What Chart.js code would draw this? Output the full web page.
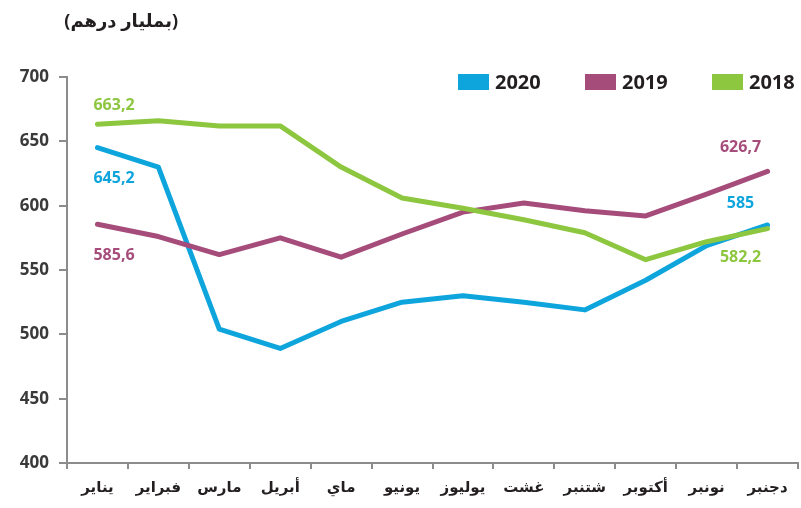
<!DOCTYPE html>
<html><head><meta charset="utf-8">
<script src="https://cdn.jsdelivr.net/npm/chart.js@4.4.1/dist/chart.umd.min.js"></script>
<style>html,body{margin:0;padding:0;background:#fff}#wrap{width:801px;height:508px;position:relative}</style>
</head><body><div id="wrap"><canvas id="c" width="801" height="508"></canvas></div>
<script>
const months = ['يناير','فبراير','مارس','أبريل','ماي','يونيو','يوليوز','غشت','شتنبر','أكتوبر','نونبر','دجنبر'];
const seriesLabels = ['2020','2019','2018'];
const values2020 = [645.2, 630, 504, 489, 510, 525, 530, 525, 519, 542, 569, 585];
const values2019 = [585.6, 576, 562, 575, 560, 578, 595, 602, 596, 592, 609, 626.7];
const values2018 = [663.2, 666, 662, 662, 630, 606, 598, 589, 579, 558, 572, 582.2];
const unitTitle = '(بمليار درهم)';

const colors = ['#0ea5dd', '#a64c7b', '#8dc63f'];
const fontFam = "'Open Sans', 'DejaVu Sans', sans-serif";
const axisColor = '#8c8c8c';
// label offsets relative to first / last point [dx, dy, align]
const labelStyle = [
  {first: [-4, 31, 'left'], last: [-27, -22, 'center']},
  {first: [-4, 31, 'left'], last: [-27, -24, 'center']},
  {first: [-4, -19, 'left'], last: [-27, 29, 'center']}
];
const fmt = v => String(v).replace('.', ',');

const extras = {
  id: 'extras',
  afterDatasetsDraw(chart) {
    const ctx = chart.ctx;
    ctx.save();
    // end labels
    ctx.font = 'bold 16px ' + fontFam;
    ctx.textBaseline = 'middle';
    chart.data.datasets.forEach((ds, i) => {
      const meta = chart.getDatasetMeta(i);
      const pts = meta.data;
      const st = labelStyle[i];
      ctx.fillStyle = ds.borderColor;
      [['first', 0], ['last', pts.length - 1]].forEach(([k, idx]) => {
        const p = pts[idx];
        ctx.textAlign = st[k][2];
        ctx.fillText(fmt(ds.data[idx]), p.x + st[k][0], p.y + st[k][1]);
      });
    });
    // legend
    ctx.font = 'bold 20px ' + fontFam;
    ctx.textAlign = 'left';
    ctx.textBaseline = 'middle';
    const lx0 = 458, ly = 74, step = 127;
    chart.data.datasets.forEach((ds, i) => {
      const x = lx0 + i * step;
      ctx.fillStyle = ds.borderColor;
      ctx.fillRect(x, ly, 31, 16);
      ctx.fillStyle = '#231f20';
      ctx.fillText(ds.label, x + 37, ly + 9);
    });
    // title
    ctx.font = 'bold 18px ' + fontFam;
    ctx.fillStyle = '#231f20';
    ctx.direction = 'rtl';
    ctx.textAlign = 'right';
    ctx.fillText(unitTitle, 178, 22);
    ctx.restore();
  }
};

new Chart(document.getElementById('c'), {
  type: 'line',
  data: {
    labels: months,
    datasets: [
      {label: seriesLabels[0], data: values2020, borderColor: colors[0], order: 3},
      {label: seriesLabels[1], data: values2019, borderColor: colors[1], order: 2},
      {label: seriesLabels[2], data: values2018, borderColor: colors[2], order: 1}
    ].map(d => Object.assign(d, {borderWidth: 5, pointRadius: 0, tension: 0, fill: false,
      borderCapStyle: 'round', borderJoinStyle: 'round', clip: false}))
  },
  plugins: [extras],
  options: {
    responsive: false,
    animation: false,
    events: [],
    layout: {padding: {top: 77, right: 3, left: 0, bottom: 0}},
    plugins: {legend: {display: false}, tooltip: {enabled: false}, title: {display: false}},
    scales: {
      x: {
        offset: true,
        afterFit(s) { s.height = 45; },
        grid: {display: true, offset: true, drawOnChartArea: false, tickLength: 6, color: axisColor, lineWidth: 2},
        border: {display: true, color: axisColor, width: 2},
        ticks: {color: '#231f20', font: {family: fontFam, size: 15, weight: 'bold'}, padding: 10, maxRotation: 0, autoSkip: false}
      },
      y: {
        min: 400, max: 700,
        afterFit(s) { s.width = 67; },
        grid: {display: true, drawOnChartArea: false, tickLength: 8, color: axisColor, lineWidth: 2},
        border: {display: true, color: axisColor, width: 2},
        ticks: {stepSize: 50, color: '#3a3a3a', font: {family: fontFam, size: 17, weight: 'bold'}, padding: 10}
      }
    }
  }
});
</script></body></html>
